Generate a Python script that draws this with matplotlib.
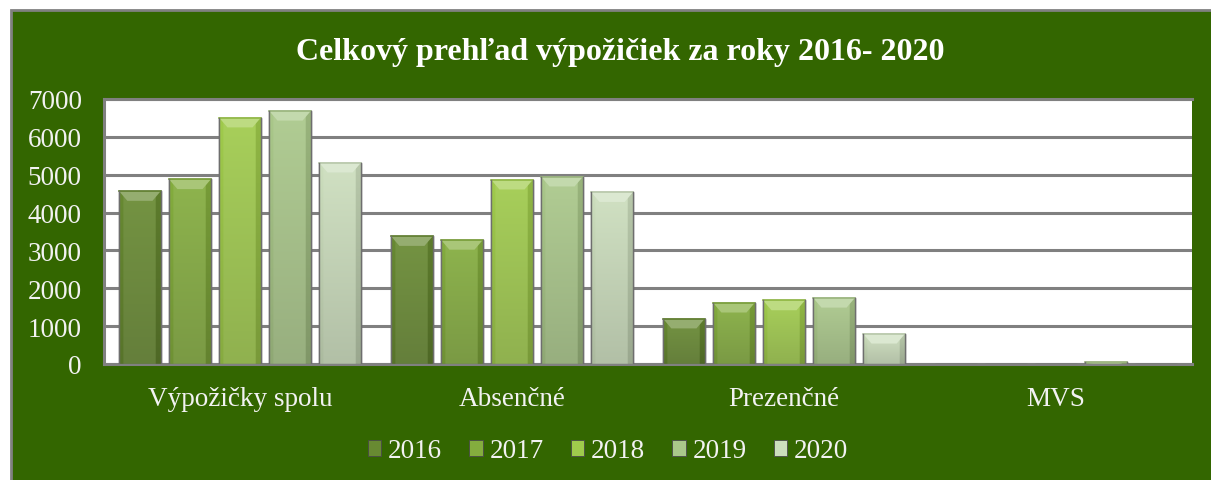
import numpy as np
import matplotlib
matplotlib.use('Agg')
import matplotlib.pyplot as plt
from matplotlib.patches import Rectangle

# data
categories = ['Výpožičky spolu', 'Absenčné', 'Prezenčné', 'MVS']
years = ['2016', '2017', '2018', '2019', '2020']
v2016 = [4570, 3380, 1200, 0]
v2017 = [4880, 3280, 1620, 0]
v2018 = [6510, 4870, 1680, 0]
v2019 = [6690, 4950, 1750, 40]
v2020 = [5320, 4540, 800, 0]
series = [v2016, v2017, v2018, v2019, v2020]

colors = ['#688a32', '#84ad3e', '#a0cb4c', '#aac88a', '#ccdebd']
green = '#336600'

plt.rcParams['font.family'] = ['Liberation Serif', 'DejaVu Serif']

fig = plt.figure(figsize=(12.11, 4.81), dpi=100)
fig.patch.set_facecolor('white')
fig.patches.append(Rectangle((11/1211, -0.01), 1.01, 1 - 11/481 + 0.01, transform=fig.transFigure,
                             facecolor=green, edgecolor='#808080', linewidth=2, zorder=-5))

ax = fig.add_axes([104/1211, 1 - 365/481, (1192 - 104)/1211, (365 - 100)/481])
ax.set_zorder(2)
ax.set_facecolor('white')

x = np.arange(len(categories))
step = 0.184
width = 0.154

def lighten(c, f):
    r = np.array(matplotlib.colors.to_rgb(c))
    return tuple(r + (1 - r) * f)

def darken(c, f):
    r = np.array(matplotlib.colors.to_rgb(c))
    return tuple(r * (1 - f))

for i, (vals, c) in enumerate(zip(series, colors)):
    pos = x + (i - 2) * step
    bars = ax.bar(pos, vals, width, color=c, edgecolor='#6e6e6e', linewidth=1.0, zorder=3, label=years[i])
    for b in bars:
        h = b.get_height()
        if h <= 0:
            continue
        bx, bw = b.get_x(), b.get_width()
        # gradient fill: lighter in the middle, darker toward the bottom
        gx = np.linspace(0, 1, 48)
        gy = np.linspace(0, 1, 48)
        base = np.array(matplotlib.colors.to_rgb(c))
        shade = np.zeros((48, 48, 3))
        for r, yy in enumerate(gy):
            for k, xx in enumerate(gx):
                col = base * (1 - 0.16 * yy)  # row 0 = top in image origin upper
                if 0.1 < xx < 0.88:
                    col = col + (1 - col) * 0.08
                elif xx >= 0.88:
                    col = col * 0.9
                shade[r, k] = np.clip(col, 0, 1)
        img = ax.imshow(shade, extent=[bx, bx + bw, 0, h], aspect='auto',
                        zorder=3.1, interpolation='bilinear')
        img.set_clip_path(b)
        # top bevel
        bev = min(h * 0.5, 260)
        ax.fill([bx, bx + bw, bx + bw * 0.8, bx + bw * 0.2], [h, h, h - bev, h - bev],
                color=lighten(c, 0.3), zorder=3.2, linewidth=0)
        ax.plot([bx, bx + bw], [h, h], color=darken(c, 0.1), linewidth=1.2, zorder=3.3)
        ax.plot([bx, bx, bx + bw, bx + bw], [h, 0, 0, h], color='#6e6e6e', linewidth=1.0, zorder=3.3)

ax.set_xlim(-0.5, len(categories) - 0.5)
ax.set_ylim(0, 7000)
ax.set_yticks(range(0, 7001, 1000))
ax.yaxis.grid(True, color='#808080', linewidth=2.2, zorder=1)
ax.set_axisbelow(True)
ax.set_xticks(x)
ax.set_xticklabels(categories)
ax.tick_params(axis='both', length=0, labelsize=19.5, colors='#f2f2f2')
ax.tick_params(axis='y', pad=16)
ax.tick_params(axis='x', pad=16)
for s in ['top', 'bottom', 'left']:
    ax.spines[s].set_color('#808080')
    ax.spines[s].set_linewidth(2.2)
ax.spines['right'].set_visible(False)

fig.text(0.512, 1 - 53/481, 'Celkový prehľad výpožičiek za roky 2016- 2020', ha='center', va='center',
         fontsize=23, fontweight='bold', color='white')

handles = [Rectangle((0, 0), 1, 1, facecolor=c, edgecolor='#4a4a4a', linewidth=0.6) for c in colors]
leg = fig.legend(handles, years, loc='center', bbox_to_anchor=(0.502, 1 - 452/481), ncol=5,
                 frameon=False, fontsize=19.5, handlelength=0.5, handleheight=0.5,
                 handletextpad=0.25, columnspacing=1.0, labelcolor='#f2f2f2')

plt.savefig('out.png', dpi=100, facecolor=fig.get_facecolor())
